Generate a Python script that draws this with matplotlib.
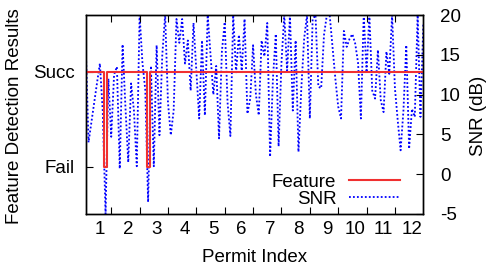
import matplotlib
matplotlib.use('Agg')
import matplotlib.pyplot as plt

# Data (120 samples, 10 per permit)
samples = list(range(1, 121))
snr_db = [16.2, 4.0, 6.5, 9.0, 11.5, 13.9, 8.0, -5.0, 12.0, 4.7,
          12.5, 13.5, 0.7, 16.3, 8.5, 1.5, 11.4, 8.0, 1.0, 20.0,
          14.0, 10.6, -3.5, 13.6, 1.0, 16.2, 4.9, 15.0, 20.0, 9.0,
          4.9, 8.0, 19.5, 16.5, 19.5, 13.9, 16.8, 10.5, 19.0, 13.0,
          7.0, 16.8, 7.4, 20.0, 15.0, 10.0, 13.6, 4.5, 15.4, 19.1,
          9.0, 4.8, 20.0, 12.8, 17.5, 13.0, 19.5, 7.6, 9.5, 16.2,
          10.0, 7.4, 16.8, 14.8, 19.0, 2.2, 12.0, 17.6, 3.5, 14.0,
          20.0, 13.0, 20.0, 8.0, 16.8, 2.8, 10.8, 17.0, 20.0, 7.0,
          19.5, 20.0, 11.0, 10.8, 17.5, 20.0, 20.0, 16.0, 12.0, 8.5,
          7.0, 18.0, 16.0, 17.0, 17.6, 16.4, 14.0, 7.0, 20.0, 12.8,
          20.0, 10.5, 9.5, 15.6, 9.3, 7.8, 15.4, 12.6, 20.0, 10.8,
          6.7, 3.0, 8.0, 16.2, 3.2, 8.2, 7.2, 20.0, 7.2, 18.8]
fail_samples = [8, 23]
feature = [0 if s in fail_samples else 1 for s in samples]

permit_labels = [str(k) for k in range(1, 13)]
permit_label_pos = [6 + 10 * k for k in range(12)]
permit_ticks = [10 * k for k in range(1, 12)]
snr_ticks = [-5, 0, 5, 10, 15, 20]

plt.rcParams['font.family'] = ['Liberation Sans', 'DejaVu Sans']
plt.rcParams['axes.unicode_minus'] = False
fs = 13.5

fig = plt.figure(figsize=(4.9, 2.74), dpi=100)
ax = fig.add_axes([85.7 / 490, 1 - 214 / 274, 337.6 / 490, 199 / 274])
ax2 = ax.twinx()

l2, = ax2.plot(samples, snr_db, color='#0000ff', lw=1.3,
               linestyle=(0, (1, 1.2)), label='SNR')
l1, = ax.plot(samples, feature, color='#f03030', lw=1.5,
              drawstyle='steps-mid', label='Feature')

# keep red line on top of the blue one
ax.set_zorder(ax2.get_zorder() + 1)
ax.patch.set_visible(False)

ax.set_xlim(1, 120)
ax.set_ylim(-0.5, 1.6)
ax2.set_ylim(-5, 20)

ax.set_yticks([0, 1])
ax.set_yticklabels(['Fail', 'Succ'], fontsize=fs)
ax.set_xticks(permit_ticks)
ax.set_xticklabels([])
ax.set_xticks(permit_label_pos, minor=True)
ax.set_xticklabels(permit_labels, minor=True, fontsize=fs)
ax.tick_params(axis='x', which='major', direction='in', length=5, top=True)
ax.tick_params(axis='x', which='minor', length=0, pad=5)
ax.tick_params(axis='y', direction='in', length=5, pad=8)

ax2.set_yticks(snr_ticks)
ax2.set_yticklabels([str(v) for v in snr_ticks], fontsize=fs)
ax2.tick_params(axis='y', direction='in', length=5, pad=12)

for a in (ax, ax2):
    for sp in a.spines.values():
        sp.set_linewidth(1.0)

fig.text(254.5 / 490, 1 - 258 / 274, 'Permit Index', fontsize=fs,
         ha='center', va='center')
fig.text(15 / 490, 1 - 116 / 274, 'Feature Detection Results', fontsize=fs,
         ha='center', va='center', rotation=90)
fig.text(478 / 490, 1 - 116 / 274, 'SNR (dB)', fontsize=fs,
         ha='center', va='center', rotation=90)

ax.legend(handles=[l1, l2], loc='lower right', markerfirst=False,
          frameon=False, fontsize=fs, handlelength=2.7, handletextpad=0.7,
          labelspacing=0.0, borderpad=0, borderaxespad=0,
          bbox_to_anchor=(0.931, 0.03))

fig.savefig('out.png', dpi=100)
